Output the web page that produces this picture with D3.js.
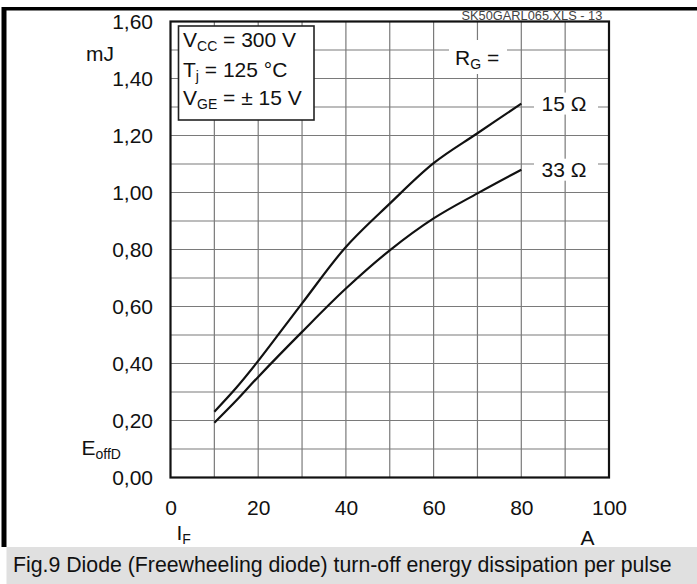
<!DOCTYPE html>
<html>
<head>
<meta charset="utf-8">
<script src="https://cdn.jsdelivr.net/npm/d3@7/dist/d3.min.js"></script>
<style>
  html, body { margin: 0; padding: 0; background: #fff; }
  svg { display: block; }
  text { font-family: "Liberation Sans", Arial, Helvetica, sans-serif; fill: #111; }
</style>
</head>
<body>
<svg id="chart" width="697" height="584"></svg>
<script>
// ---- data ----
const currentA = [10, 15, 20, 30, 40, 50, 60, 70, 80];
const eoff15 = [0.231, 0.315, 0.409, 0.611, 0.809, 0.961, 1.103, 1.208, 1.312];
const eoff33 = [0.192, 0.270, 0.353, 0.511, 0.663, 0.797, 0.909, 0.997, 1.080];
const seriesNames = ["15 \u03A9", "33 \u03A9"];
const xTicks = [0, 20, 40, 60, 80, 100];
const yTicks = [0, 0.2, 0.4, 0.6, 0.8, 1.0, 1.2, 1.4, 1.6];
const xGrid = [10, 20, 30, 40, 50, 60, 70, 80, 90];
const yGrid = [0.1, 0.2, 0.3, 0.4, 0.5, 0.6, 0.7, 0.8, 0.9, 1.0, 1.1, 1.2, 1.3, 1.4, 1.5];
const conditions = [["V", "CC", " = 300 V"], ["T", "j", " = 125 \u00B0C"], ["V", "GE", " = \u00B1 15 V"]];
const caption = "Fig.9 Diode (Freewheeling diode) turn-off energy dissipation per pulse";
const fileTag = "SK50GARL065.XLS - 13";

const svg = d3.select("#chart");
const x = d3.scaleLinear([0, 100], [170.5, 609]);
const y = d3.scaleLinear([0, 1.6], [477.5, 21.5]);
const FS = 21, SUB = 14;

// frame
svg.append("rect").attr("x", 3).attr("y", 7).attr("width", 694).attr("height", 3.5).attr("fill", "#000");
svg.append("rect").attr("x", 1.5).attr("y", 7).attr("width", 5).attr("height", 540).attr("fill", "#000");
svg.append("rect").attr("x", 6.5).attr("y", 547).attr("width", 691).attr("height", 37).attr("fill", "#e0e0e0");

// grid
const grid = svg.append("g").attr("stroke", "#7a7a7a").attr("stroke-width", 1.2);
grid.selectAll(".vg").data(xGrid).join("line")
  .attr("x1", d => x(d)).attr("x2", d => x(d)).attr("y1", y(0)).attr("y2", y(1.6));
grid.selectAll(".hg").data(yGrid).join("line")
  .attr("y1", d => y(d)).attr("y2", d => y(d)).attr("x1", x(0)).attr("x2", x(100));

// curves
const line = d3.line().x(d => x(d[0])).y(d => y(d[1])).curve(d3.curveCatmullRom.alpha(0.5));
[eoff15, eoff33].forEach(vals => {
  svg.append("path").datum(currentA.map((c, i) => [c, vals[i]]))
    .attr("d", line).attr("fill", "none").attr("stroke", "#111").attr("stroke-width", 2.2);
});

// plot border
svg.append("rect").attr("x", x(0)).attr("y", y(1.6)).attr("width", x(100) - x(0)).attr("height", y(0) - y(1.6))
  .attr("fill", "none").attr("stroke", "#111").attr("stroke-width", 2.2);

// file tag, fitted to its width in the reference
const tag = svg.append("text").attr("x", 461.5).attr("y", 19.5).attr("font-size", 11).style("fill", "#444").text(fileTag);
tag.attr("font-size", 11 * 141 / tag.node().getComputedTextLength());

// conditions box
svg.append("rect").attr("x", 178.5).attr("y", 26).attr("width", 135.5).attr("height", 94)
  .attr("fill", "#fff").attr("stroke", "#222").attr("stroke-width", 1.6);
const condBase = [47, 77, 105];
conditions.forEach((c, i) => {
  const t = svg.append("text").attr("x", 183).attr("y", condBase[i]).attr("font-size", FS);
  t.append("tspan").text(c[0]);
  t.append("tspan").attr("font-size", SUB).attr("dy", 4).text(c[1]);
  t.append("tspan").attr("dy", -4).text(c[2]);
});

// R_G labels with white backgrounds
function label(xc, yc, w, h) {
  svg.append("rect").attr("x", xc - w / 2).attr("y", yc - h / 2).attr("width", w).attr("height", h).attr("fill", "#fff");
}
label(478, 57, 58, 34);
const rg = svg.append("text").attr("x", 455).attr("y", 65).attr("font-size", FS);
rg.append("tspan").text("R");
rg.append("tspan").attr("font-size", SUB).attr("dy", 4).text("G");
rg.append("tspan").attr("dy", -4).text(" =");

const lastIdx = currentA.length - 1;
[eoff15, eoff33].forEach((vals, i) => {
  const yy = y(vals[lastIdx]);
  label(566, yy, 64, 22);
  svg.append("text").attr("x", 541.5).attr("y", yy + 7.5).attr("font-size", FS).text(seriesNames[i]);
});

// axes tick labels
const fmt = d => d3.format(".2f")(d).replace(".", ",");
const yAxis = svg.append("g").attr("transform", `translate(${x(0)},0)`)
  .call(d3.axisLeft(y).tickValues(yTicks).tickFormat(fmt).tickSize(0).tickPadding(17.5));
yAxis.select(".domain").remove();
yAxis.selectAll("text").attr("font-size", FS).style("font-family", null);

const xAxis = svg.append("g").attr("transform", `translate(0,${y(0)})`)
  .call(d3.axisBottom(x).tickValues(xTicks).tickFormat(d3.format("d")).tickSize(0).tickPadding(22.5));
xAxis.select(".domain").remove();
xAxis.selectAll("text").attr("font-size", FS).style("font-family", null);

// axis titles
svg.append("text").attr("x", 86).attr("y", 61).attr("font-size", FS).text("mJ");
const eo = svg.append("text").attr("x", 81.5).attr("y", 455).attr("font-size", FS);
eo.append("tspan").text("E");
eo.append("tspan").attr("font-size", SUB).attr("dy", 4).text("offD");
const ifl = svg.append("text").attr("x", 176.5).attr("y", 540).attr("font-size", FS);
ifl.append("tspan").text("I");
ifl.append("tspan").attr("font-size", SUB).attr("dy", 4).text("F");
svg.append("text").attr("x", 580.5).attr("y", 545).attr("font-size", FS).text("A");

// caption, fitted to the band width
const cap = svg.append("text").attr("x", 13).attr("y", 572).attr("font-size", 19.5).text(caption);
const w = cap.node().getComputedTextLength();
cap.attr("font-size", 19.5 * 659 / w);
</script>
</body>
</html>
